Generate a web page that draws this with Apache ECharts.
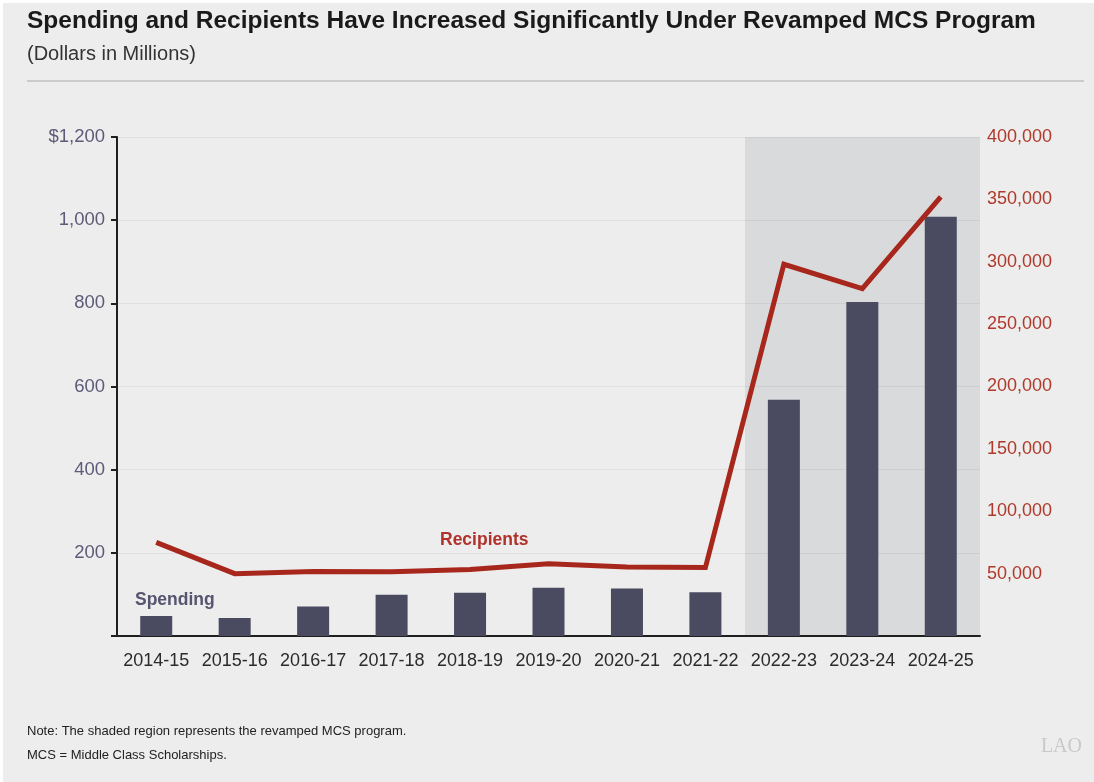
<!DOCTYPE html>
<html>
<head>
<meta charset="utf-8">
<script src="https://cdn.jsdelivr.net/npm/echarts@6/dist/echarts.min.js"></script>
<style>
  html, body { margin: 0; padding: 0; background: #ffffff; }
  #frame { position: absolute; left: 3px; top: 3px; width: 1091px; height: 779px; background: #ECEDEC; }
  #chart { position: absolute; left: -3px; top: -3px; width: 1094px; height: 782px; }
</style>
</head>
<body>
<div id="frame"><div id="chart"></div></div>
<script>
const categories = ['2014-15','2015-16','2016-17','2017-18','2018-19','2019-20','2020-21','2021-22','2022-23','2023-24','2024-25'];
const spending = [48, 43, 71, 99, 104, 116, 114, 105, 568, 803, 1008];
const recipients = [75000, 50000, 51800, 51600, 53300, 58000, 55400, 54900, 298000, 278500, 352000];
const revamped = [null, null, null, null, null, null, null, null, 1200, 1200, 1200];
const leftTicks = {1200: '$1,200', 1000: '1,000', 800: '800', 600: '600', 400: '400', 200: '200'};
const rightTicks = {400000: '400,000', 350000: '350,000', 300000: '300,000', 250000: '250,000', 200000: '200,000', 150000: '150,000', 100000: '100,000', 50000: '50,000'};

const shadeData = categories.map((c, i) => revamped[i] == null ? null : [c, revamped[i]]).filter(Boolean);

const FONT = '"Liberation Sans", Arial, Helvetica, sans-serif';
const chart = echarts.init(document.getElementById('chart'));
chart.setOption({
  backgroundColor: 'transparent',
  animation: false,
  textStyle: { fontFamily: FONT },
  grid: { left: 117, right: 114, top: 137, bottom: 146 },
  graphic: [
    { type: 'text', left: 27, top: 9, style: { text: 'Spending and Recipients Have Increased Significantly Under Revamped MCS Program', font: 'bold 24.5px ' + FONT, fill: '#1a1a1a' } },
    { type: 'text', left: 27, top: 44, style: { text: '(Dollars in Millions)', font: '20px ' + FONT, fill: '#333333' } },
    { type: 'line', shape: { x1: 27, y1: 81, x2: 1084, y2: 81 }, style: { stroke: '#a9aaaa', lineWidth: 1 } },
    { type: 'text', left: 135, top: 591, style: { text: 'Spending', font: 'bold 17.5px ' + FONT, fill: '#56546f' } },
    { type: 'text', left: 440, top: 531, style: { text: 'Recipients', font: 'bold 17.5px ' + FONT, fill: '#b0322a' } },
    { type: 'text', left: 27, top: 725, style: { text: 'Note: The shaded region represents the revamped MCS program.', font: '13px ' + FONT, fill: '#222222' } },
    { type: 'text', left: 27, top: 749, style: { text: 'MCS = Middle Class Scholarships.', font: '13px ' + FONT, fill: '#222222' } },
    { type: 'text', right: 12, top: 737, style: { text: 'LAO', font: '20px "Liberation Serif", "DejaVu Serif", serif', fill: '#c8c9c9' } }
  ],
  xAxis: [
    {
      type: 'category', data: categories, boundaryGap: true,
      axisLine: { show: true, lineStyle: { color: '#1f1f1f', width: 2 } },
      axisTick: { show: false },
      axisLabel: { color: '#2b2b2b', fontSize: 18, margin: 16, interval: 0 }
    }
  ],
  yAxis: [
    {
      type: 'value', min: 0, max: 1200, interval: 200, position: 'left',
      axisLine: { show: true, lineStyle: { color: '#1f1f1f', width: 2 } },
      axisTick: { show: true, length: 6, lineStyle: { color: '#1f1f1f', width: 2 } },
      axisLabel: { color: '#5d5b77', fontSize: 18.5, margin: 12, formatter: v => leftTicks[v] || '' },
      splitLine: { show: true, lineStyle: { color: 'rgba(0,0,0,0.055)', width: 1 } }
    },
    {
      type: 'value', min: 0, max: 400000, interval: 50000, position: 'right',
      axisLine: { show: false }, axisTick: { show: false },
      axisLabel: { color: '#b0392c', fontSize: 18, margin: 7, formatter: v => rightTicks[v] || '' },
      splitLine: { show: false }
    }
  ],
  series: [
    {
      name: 'Revamped', type: 'custom', xAxisIndex: 0, yAxisIndex: 0, data: shadeData,
      z: -1, silent: true,
      encode: { x: 0, y: 1 },
      renderItem: function (params, api) {
        const idx = api.value(0);
        const top = api.coord([idx, api.value(1)]);
        const bottom = api.coord([idx, 0]);
        const w = api.size([1, 0])[0];
        const x0 = Math.round(top[0] - w / 2);
        const x1 = Math.round(top[0] + w / 2);
        return {
          type: 'rect',
          shape: { x: x0, y: Math.round(top[1]), width: x1 - x0, height: Math.round(bottom[1]) - Math.round(top[1]) },
          style: { fill: '#d9dadb' }
        };
      }
    },
    {
      name: 'Spending', type: 'bar', xAxisIndex: 0, yAxisIndex: 0, data: spending,
      barWidth: 32, itemStyle: { color: '#4a4a60' }
    },
    {
      name: 'Recipients', type: 'line', xAxisIndex: 0, yAxisIndex: 1, data: recipients,
      symbol: 'none', lineStyle: { color: '#a8271d', width: 5, join: 'miter' }, z: 5
    }
  ]
});
</script>
</body>
</html>
